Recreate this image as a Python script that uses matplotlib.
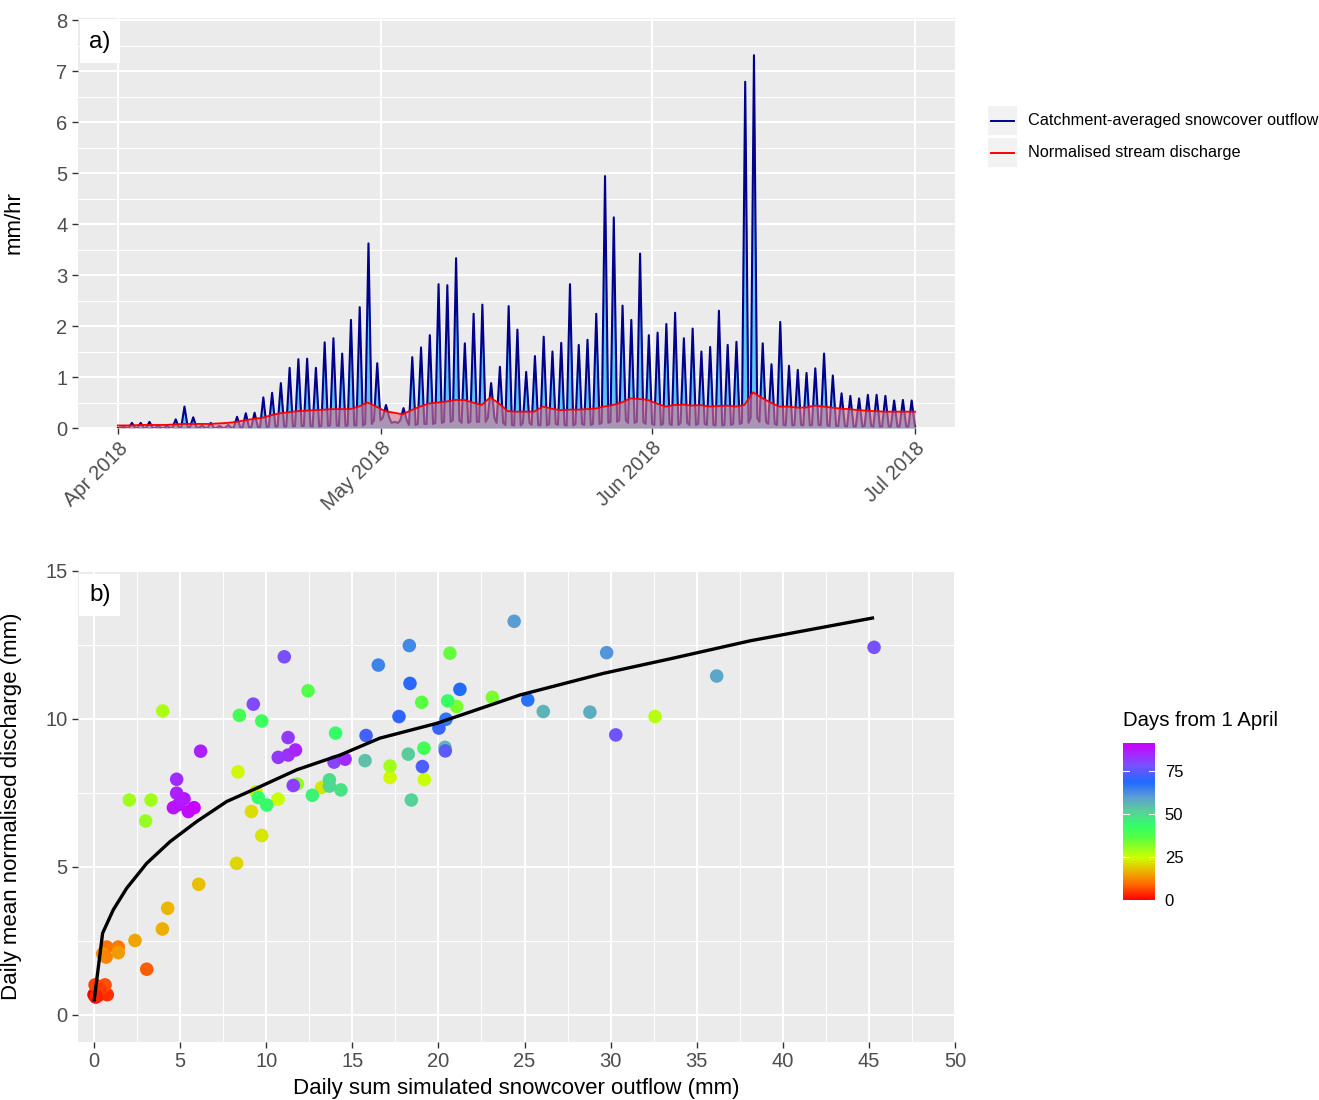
import numpy as np
import pandas as pd
import matplotlib
matplotlib.use("Agg")
import matplotlib.pyplot as plt
import matplotlib.dates as mdates
from matplotlib.colors import LinearSegmentedColormap, Normalize
from matplotlib.colorbar import ColorbarBase
from matplotlib.lines import Line2D
from matplotlib.patches import Rectangle

plt.rcParams["font.family"] = ["Liberation Sans", "DejaVu Sans"]

# --------------------------------------------------
# data: panel a (daily peak / night trough of outflow, daily discharge), mm/hr
# --------------------------------------------------
outflow_peak = [
    0.03, 0.10, 0.10, 0.12, 0.04, 0.04, 0.17, 0.42, 0.21, 0.05,
    0.10, 0.04, 0.06, 0.22, 0.29, 0.30, 0.60, 0.69, 0.88, 1.18,
    1.35, 1.36, 1.18, 1.68, 1.76, 1.46, 2.12, 2.37, 3.62, 1.27,
    0.45, 0.12, 0.39, 1.39, 1.58, 1.82, 2.82, 2.80, 3.33, 1.66,
    2.24, 2.42, 0.88, 1.20, 2.39, 1.93, 1.10, 1.41, 1.79, 1.50,
    1.67, 2.82, 1.63, 1.73, 2.24, 4.94, 4.13, 2.40, 2.12, 3.42,
    1.82, 1.87, 2.04, 2.26, 1.76, 1.95, 1.50, 1.59, 2.30, 1.63,
    1.69, 6.79, 7.31, 1.66, 1.25, 2.08, 1.22, 1.14, 1.08, 1.17,
    1.46, 1.03, 0.68, 0.63, 0.58, 0.65, 0.65, 0.63, 0.54, 0.55,
    0.54,
]
outflow_trough = [
    0.00, 0.00, 0.00, 0.00, 0.00, 0.00, 0.00, 0.01, 0.01, 0.00,
    0.00, 0.00, 0.00, 0.01, 0.01, 0.02, 0.02, 0.03, 0.03, 0.03,
    0.04, 0.04, 0.03, 0.04, 0.05, 0.04, 0.05, 0.05, 0.08, 0.15,
    0.20, 0.10, 0.15, 0.06, 0.08, 0.08, 0.10, 0.12, 0.15, 0.10,
    0.12, 0.12, 0.20, 0.10, 0.06, 0.05, 0.10, 0.06, 0.05, 0.08,
    0.06, 0.05, 0.08, 0.06, 0.08, 0.10, 0.12, 0.15, 0.10, 0.12,
    0.08, 0.06, 0.08, 0.06, 0.10, 0.06, 0.08, 0.06, 0.05, 0.06,
    0.08, 0.10, 0.20, 0.12, 0.08, 0.06, 0.05, 0.06, 0.05, 0.06,
    0.05, 0.04, 0.04, 0.03, 0.03, 0.04, 0.03, 0.03, 0.03, 0.03,
    0.03,
]
discharge = [
    0.05, 0.05, 0.06, 0.06, 0.06, 0.06, 0.07, 0.08, 0.08, 0.08,
    0.08, 0.09, 0.10, 0.12, 0.15, 0.18, 0.20, 0.25, 0.29, 0.31,
    0.33, 0.34, 0.35, 0.36, 0.37, 0.37, 0.37, 0.42, 0.50, 0.42,
    0.33, 0.30, 0.27, 0.35, 0.42, 0.48, 0.50, 0.52, 0.55, 0.55,
    0.50, 0.45, 0.60, 0.48, 0.33, 0.32, 0.32, 0.32, 0.42, 0.38,
    0.35, 0.36, 0.36, 0.37, 0.38, 0.42, 0.45, 0.50, 0.58, 0.57,
    0.55, 0.48, 0.42, 0.45, 0.46, 0.44, 0.45, 0.42, 0.43, 0.44,
    0.42, 0.45, 0.70, 0.59, 0.50, 0.42, 0.42, 0.40, 0.40, 0.44,
    0.42, 0.40, 0.38, 0.37, 0.35, 0.34, 0.33, 0.32, 0.32, 0.32,
    0.32,
]
month_ticks = ["2018-04-01", "2018-05-01", "2018-06-01", "2018-07-01"]
month_labels = ["Apr 2018", "May 2018", "Jun 2018", "Jul 2018"]

# --------------------------------------------------
# data: panel b (daily sums vs daily mean discharge, coloured by day)
# --------------------------------------------------
point_x = [
    0.00, 0.25, 0.77, 0.06, 0.64, 0.35, 0.10, 0.15, 3.06, 0.74,
    1.41, 0.50, 1.41, 0.70, 2.38, 3.97, 4.28, 6.08, 8.28, 9.74,
    9.14, 9.40, 10.69, 13.22, 8.36, 17.19, 19.18, 17.19, 2.05, 3.31,
    3.00, 3.99, 32.58, 21.06, 23.13, 11.80, 19.03, 20.67, 12.43, 8.44,
    9.74, 20.54, 19.16, 9.54, 10.03, 14.03, 12.68, 13.67, 13.67, 14.34,
    18.25, 18.43, 15.74, 20.38, 26.09, 28.80, 36.16, 24.40, 29.77, 18.31,
    16.51, 20.44, 25.19, 21.25, 18.35, 17.71, 20.03, 15.80, 19.07, 20.40,
    30.30, 45.30, 9.25, 11.05, 13.94, 11.57, 10.70, 11.28, 11.27, 14.58,
    11.70, 6.19, 4.80, 4.80, 5.23, 4.90, 4.61, 5.48, 5.81,
]
point_y = [
    0.68, 0.66, 0.68, 1.01, 1.01, 0.85, 0.60, 0.62, 1.54, 2.29,
    2.29, 2.06, 2.10, 1.95, 2.51, 2.90, 3.60, 4.41, 5.12, 6.06,
    6.87, 7.54, 7.29, 7.68, 8.21, 8.02, 7.95, 8.41, 7.26, 7.26,
    6.55, 10.27, 10.08, 10.42, 10.73, 7.80, 10.56, 12.22, 10.95, 10.12,
    9.93, 10.61, 9.01, 7.34, 7.09, 9.52, 7.42, 7.94, 7.73, 7.60,
    8.81, 7.26, 8.59, 9.04, 10.25, 10.23, 11.45, 13.30, 12.24, 12.48,
    11.82, 9.99, 10.64, 11.00, 11.20, 10.08, 9.69, 9.44, 8.39, 8.92,
    9.46, 12.42, 10.50, 12.10, 8.54, 7.75, 8.70, 8.78, 9.37, 8.64,
    8.95, 8.91, 7.96, 7.49, 7.30, 7.10, 7.00, 6.87, 7.00,
]
point_day = [
    0, 2, 4, 6, 7, 5, 1, 3, 8, 10,
    11, 13, 14, 12, 15, 16, 17, 18, 20, 22,
    21, 23, 25, 22, 24, 24, 25, 29, 29, 29,
    30, 28, 27, 33, 33, 31, 36, 35, 37, 40,
    41, 42, 40, 43, 44, 43, 45, 49, 50, 48,
    52, 51, 54, 55, 56, 57, 58, 60, 61, 63,
    64, 66, 67, 68, 69, 70, 71, 72, 73, 75,
    77, 78, 79, 78, 80, 81, 82, 83, 82, 84,
    85, 86, 84, 86, 87, 87, 88, 89, 90,
]
# fitted curve
fit_x = [0.0, 0.5, 1.12, 1.9, 3.06, 4.41, 5.96, 7.71, 9.45, 11.77,
         14.29, 16.6, 19.9, 24.74, 29.58, 33.45, 38.1, 45.3]
fit_y = [0.45, 2.76, 3.55, 4.28, 5.12, 5.85, 6.53, 7.21, 7.66, 8.28,
         8.78, 9.35, 9.85, 10.81, 11.54, 12.03, 12.64, 13.42]

cbar_ticks = [0, 25, 50, 75]
day_max = 91

# --------------------------------------------------
# build the time series
# --------------------------------------------------
start = pd.Timestamp("2018-04-01")
end = pd.Timestamp("2018-07-01")
days = pd.date_range(start, periods=len(outflow_peak), freq="D")

t_out, v_out = [start], [outflow_trough[0]]
for d, (lo, hi) in enumerate(zip(outflow_trough, outflow_peak)):
    t_out += [days[d] + pd.Timedelta(hours=5.5),
              days[d] + pd.Timedelta(hours=14.5),
              days[d] + pd.Timedelta(hours=23.5)]
    v_out += [lo, hi, lo]
t_out.append(end)
v_out.append(outflow_trough[-1])
t_out = mdates.date2num(pd.DatetimeIndex(t_out).to_pydatetime())

t_q = [start] + [d + pd.Timedelta(hours=12) for d in days] + [end]
v_q = [discharge[0]] + discharge + [discharge[-1]]
t_q = mdates.date2num(pd.DatetimeIndex(t_q).to_pydatetime())

# --------------------------------------------------
# figure
# --------------------------------------------------
W, H = 1319, 1100
fig = plt.figure(figsize=(W / 100, H / 100), dpi=100)

BG = "#EBEBEB"
TXT = "#4D4D4D"


def style(ax):
    ax.set_facecolor(BG)
    for s in ax.spines.values():
        s.set_visible(False)
    ax.grid(which="major", color="white", lw=1.5)
    ax.grid(which="minor", color="white", lw=0.75)
    ax.set_axisbelow(True)
    ax.tick_params(which="major", length=4, width=1.0, color="#333333",
                   labelsize=14.5, labelcolor=TXT)
    ax.tick_params(which="minor", length=0)


ax1 = fig.add_axes([78 / W, 1 - 428 / H, 877 / W, 410 / H])
style(ax1)
ax1.fill_between(t_out, 0, v_out, color="#5CC6F2", lw=0, zorder=2)
ax1.plot(t_out, v_out, color="#00008B", lw=1.5, zorder=3)
ax1.fill_between(t_q, 0, v_q, color="#DC788C", alpha=0.62, lw=0, zorder=4)
ax1.plot(t_q, v_q, color="#FF0000", lw=1.3, zorder=5)

tick_dates = mdates.date2num(pd.to_datetime(month_ticks).to_pydatetime())
span = tick_dates[-1] - tick_dates[0]
ax1.set_xlim(tick_dates[0] - 0.05 * span, tick_dates[-1] + 0.05 * span)
ax1.set_xticks(tick_dates)
ax1.set_xticklabels(month_labels, rotation=45, ha="right", rotation_mode="anchor")
ax1.set_ylim(0, 8.04)
ax1.set_yticks(range(0, 9))
ax1.set_yticks(np.arange(0.5, 8, 1.0), minor=True)
ax1.set_ylabel("mm/hr", fontsize=16, color="black")
ax1.yaxis.set_label_coords(-0.0604, 0.5)
ax1.text(0.025, 0.941, "a)", transform=ax1.transAxes, fontsize=17.5,
         ha="center", va="center", zorder=10,
         bbox=dict(boxstyle="square,pad=0.4", fc="white", ec="none"))

ax2 = fig.add_axes([78 / W, 1 - 1042 / H, 877 / W, 471 / H])
style(ax2)
cmap = LinearSegmentedColormap.from_list("days", [
    (0.00, "#FF0000"), (0.10, "#FF6A00"), (0.20, "#E6C400"),
    (0.27, "#CCFF00"), (0.40, "#55FF44"), (0.47, "#33FF66"),
    (0.58, "#5CC8A0"), (0.66, "#5B9BD5"), (0.75, "#1F6BFF"),
    (0.86, "#7A50FF"), (1.00, "#CC00FF"),
])
norm = Normalize(vmin=0, vmax=day_max)
ax2.scatter(point_x, point_y, c=point_day, cmap=cmap, norm=norm, s=95,
            linewidths=0, zorder=3)
ax2.plot(fit_x, fit_y, color="black", lw=2.4, zorder=4, solid_capstyle="butt")
ax2.set_xlim(-0.93, 50)
ax2.set_ylim(-0.92, 15)
ax2.set_xticks(range(0, 51, 5))
ax2.set_xticks(np.arange(2.5, 50, 5), minor=True)
ax2.set_yticks([0, 5, 10, 15])
ax2.set_yticks([2.5, 7.5, 12.5], minor=True)
ax2.set_xlabel("Daily sum simulated snowcover outflow (mm)", fontsize=16, color="black")
ax2.xaxis.set_label_coords(0.4994, -0.0977)
ax2.xaxis.label.set_va("center")
ax2.set_ylabel("Daily mean normalised discharge (mm)", fontsize=16, color="black")
ax2.yaxis.set_label_coords(-0.0639, 0.5)
ax2.text(0.025, 0.949, "b)", transform=ax2.transAxes, fontsize=17.5,
         ha="center", va="center", zorder=10,
         bbox=dict(boxstyle="square,pad=0.4", fc="white", ec="none"))

# legend for panel a
legend_items = [("Catchment-averaged snowcover outflow", "#00008B"),
                ("Normalised stream discharge", "#FF0000")]
for i, (label, col) in enumerate(legend_items):
    top = 106 + i * 32
    fig.add_artist(Rectangle((988 / W, 1 - (top + 29) / H), 29 / W, 29 / H,
                             transform=fig.transFigure, fc="#F2F2F2", ec="none"))
    fig.add_artist(Line2D([991 / W, 1014 / W], [1 - (top + 14.5) / H] * 2,
                          transform=fig.transFigure, color=col, lw=1.4))
    fig.text(1028 / W, 1 - (top + 14.5) / H, label, fontsize=11.7,
             ha="left", va="center")

# colour bar for panel b
cax = fig.add_axes([1123 / W, 1 - 900 / H, 32 / W, 157 / H])
cb = ColorbarBase(cax, cmap=cmap, norm=norm, orientation="vertical")
cb.outline.set_visible(False)
cb.set_ticks(cbar_ticks)
cax.tick_params(length=0, labelsize=12, pad=7)
for v in cbar_ticks:
    cax.axhline(v, xmin=0, xmax=0.2, color="white", lw=0.8)
    cax.axhline(v, xmin=0.8, xmax=1, color="white", lw=0.8)
fig.text(1123 / W, 1 - 720 / H, "Days from 1 April", fontsize=14.7,
         ha="left", va="center")

fig.savefig("out.png", dpi=100)
